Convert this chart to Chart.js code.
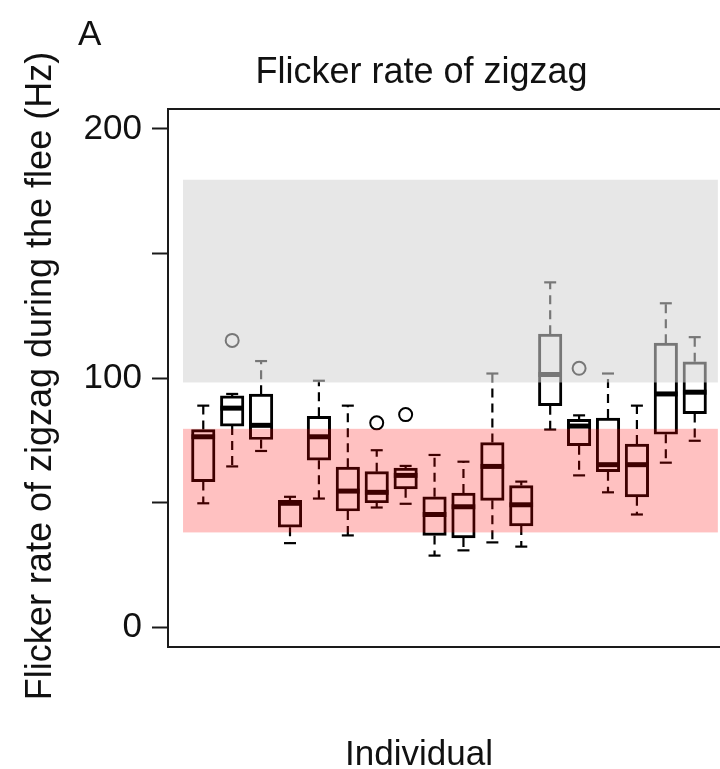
<!DOCTYPE html>
<html>
<head>
<meta charset="utf-8">
<script src="https://cdn.jsdelivr.net/npm/chart.js@4/dist/chart.umd.min.js"></script>
<style>
  html, body { margin: 0; padding: 0; background: #fff; overflow: hidden; }
  #wrap { width: 720px; height: 769px; overflow: hidden; position: relative; background: #fff; }
  canvas { display: block; }
</style>
</head>
<body>
<div id="wrap"><canvas id="c" width="760" height="769"></canvas></div>
<script>
// ---------- data ----------
const individuals  = [1, 2, 3, 4, 5, 6, 7, 8, 9, 10, 11, 12, 13, 14, 15, 16, 17, 18];
const whiskerLow   = [49.7, 64.5, 70.7, 33.7, 51.6, 36.8, 48.0, 49.5, 28.7, 30.8, 34.0, 32.3, 79.3, 60.9, 54.1, 45.2, 66.0, 74.8];
const lowerQuart   = [58.4, 80.7, 75.3, 40.1, 67.0, 46.6, 49.9, 55.5, 36.8, 35.8, 50.9, 40.6, 88.9, 72.8, 62.4, 52.3, 77.4, 85.7];
const medians      = [76.4, 87.9, 81.0, 49.7, 76.4, 54.6, 54.1, 60.9, 45.2, 48.3, 64.5, 49.1, 101.4, 80.7, 65.2, 65.2, 93.6, 94.3];
const upperQuart   = [79.3, 92.8, 93.5, 50.9, 84.6, 64.2, 62.4, 63.8, 52.3, 53.8, 74.1, 56.8, 117.6, 83.4, 83.9, 73.5, 114.0, 106.5];
const whiskerHigh  = [88.9, 93.6, 106.8, 52.3, 98.9, 88.9, 71.0, 64.7, 69.1, 66.4, 101.8, 58.4, 138.4, 85.0, 101.8, 88.9, 130.0, 116.4];
const outlierIndividual = [2, 7, 8, 14];
const outlierValue      = [115.1, 82.0, 85.3, 103.9];
const humanRangeBand = [98.2, 179.6];   // grey band (Hz)
const zigzagRangeBand = [38.0, 79.6];   // pink band (Hz)
const bandSpan = [0.3, 18.8];           // band extent along the individual axis
const yTickValues = [0, 50, 100, 150, 200];
const yTickLabels = ['0', '', '100', '', '200'];
const titleText = 'Flicker rate of zigzag';
const yAxisText = 'Flicker rate of zigzag during the flee (Hz)';
const xAxisText = 'Individual';
const panelLetter = 'A';

const FONT = '"Liberation Sans", Arial, Helvetica, sans-serif';

// ---------- datasets built from the arrays ----------
const boxData = individuals.map((x, i) => ({ x: x, y: [lowerQuart[i], upperQuart[i]] }));
const whiskerData = individuals.flatMap((x, i) => [
  { x: x, y: upperQuart[i] }, { x: x, y: whiskerHigh[i] }, { x: x, y: null },
  { x: x, y: lowerQuart[i] }, { x: x, y: whiskerLow[i] }, { x: x, y: null }
]);
const capData = individuals.flatMap((x, i) => [{ x: x, y: whiskerLow[i] }, { x: x, y: whiskerHigh[i] }]);
const medianData = individuals.map((x, i) => ({ x: x, y: medians[i] }));
const outlierData = outlierIndividual.map((x, i) => ({ x: x, y: outlierValue[i] }));

const overlayPlugin = {
  id: 'overlay',
  afterDatasetsDraw(chart) {
    const { ctx, chartArea, scales } = chart;
    const xs = scales.x, ys = scales.y;
    ctx.save();
    ctx.beginPath();
    ctx.rect(chartArea.left, chartArea.top, chartArea.right - chartArea.left, chartArea.bottom - chartArea.top);
    ctx.clip();
    const x0 = xs.getPixelForValue(bandSpan[0]);
    const x1 = xs.getPixelForValue(bandSpan[1]);
    // grey band
    let yTop = ys.getPixelForValue(humanRangeBand[1]);
    let yBot = ys.getPixelForValue(humanRangeBand[0]);
    ctx.fillStyle = 'rgba(212,212,212,0.56)';
    ctx.fillRect(x0, yTop, x1 - x0, yBot - yTop);
    // pink band
    yTop = ys.getPixelForValue(zigzagRangeBand[1]);
    yBot = ys.getPixelForValue(zigzagRangeBand[0]);
    ctx.fillStyle = 'rgba(255,0,0,0.245)';
    ctx.fillRect(x0, yTop, x1 - x0, yBot - yTop);
    ctx.restore();
  },
  afterDraw(chart) {
    const { ctx, chartArea } = chart;
    ctx.save();
    // frame
    ctx.strokeStyle = '#1a1a1a';
    ctx.lineWidth = 2;
    ctx.strokeRect(chartArea.left, chartArea.top, chartArea.right - chartArea.left, chartArea.bottom - chartArea.top);
    // texts
    ctx.fillStyle = '#111';
    ctx.textBaseline = 'alphabetic';
    ctx.font = '35px ' + FONT;
    ctx.textAlign = 'left';
    ctx.fillText(panelLetter, 78, 45);
    ctx.font = '36px ' + FONT;
    ctx.textAlign = 'center';
    ctx.fillText(titleText, 421.5, 83);
    ctx.font = '35px ' + FONT;
    ctx.fillText(xAxisText, 419, 765);
    ctx.translate(51, 376);
    ctx.rotate(-Math.PI / 2);
    ctx.font = '36px ' + FONT;
    ctx.fillText(yAxisText, 0, 0);
    ctx.restore();
  }
};

new Chart(document.getElementById('c'), {
  type: 'bar',
  data: {
    datasets: [
      {
        type: 'scatter', label: 'median', data: medianData,
        pointStyle: 'line', pointRadius: 11.8, pointHoverRadius: 11.8,
        borderColor: '#000', borderWidth: 5, backgroundColor: '#000', order: 0
      },
      {
        type: 'scatter', label: 'outliers', data: outlierData,
        pointStyle: 'circle', pointRadius: 6.5, borderColor: '#000', borderWidth: 2,
        backgroundColor: 'rgba(0,0,0,0)', order: 1
      },
      {
        type: 'scatter', label: 'caps', data: capData,
        pointStyle: 'line', pointRadius: 6, borderColor: '#000', borderWidth: 2.2, order: 2
      },
      {
        type: 'line', label: 'whiskers', data: whiskerData,
        borderColor: '#000', borderWidth: 2.2, borderDash: [9, 6], pointRadius: 0,
        spanGaps: false, fill: false, tension: 0, order: 3
      },
      {
        type: 'bar', label: 'IQR', data: boxData,
        backgroundColor: 'rgba(255,255,255,0)', borderColor: '#000', borderWidth: 2.3,
        borderSkipped: false, barThickness: 23.5, order: 4
      }
    ]
  },
  options: {
    responsive: false,
    animation: false,
    events: [],
    devicePixelRatio: 1,
    layout: { padding: { top: 109, bottom: 122, left: 0, right: 30 } },
    plugins: { legend: { display: false }, tooltip: { enabled: false }, title: { display: false } },
    scales: {
      x: {
        type: 'linear', min: -0.22, max: 19.22, display: false, offset: false,
        grid: { display: false, offset: false }
      },
      y: {
        type: 'linear', min: -8, max: 208,
        afterFit(scale) { scale.width = 168; },
        afterBuildTicks(scale) { scale.ticks = yTickValues.map(v => ({ value: v })); },
        ticks: {
          callback: (v, i) => yTickLabels[i],
          font: { family: FONT, size: 35 },
          color: '#111', padding: 10, autoSkip: false, maxRotation: 0
        },
        grid: { drawOnChartArea: false, drawTicks: true, tickLength: 16, tickWidth: 2, tickColor: '#1a1a1a' },
        border: { display: false }
      }
    }
  },
  plugins: [overlayPlugin]
});
</script>
</body>
</html>
